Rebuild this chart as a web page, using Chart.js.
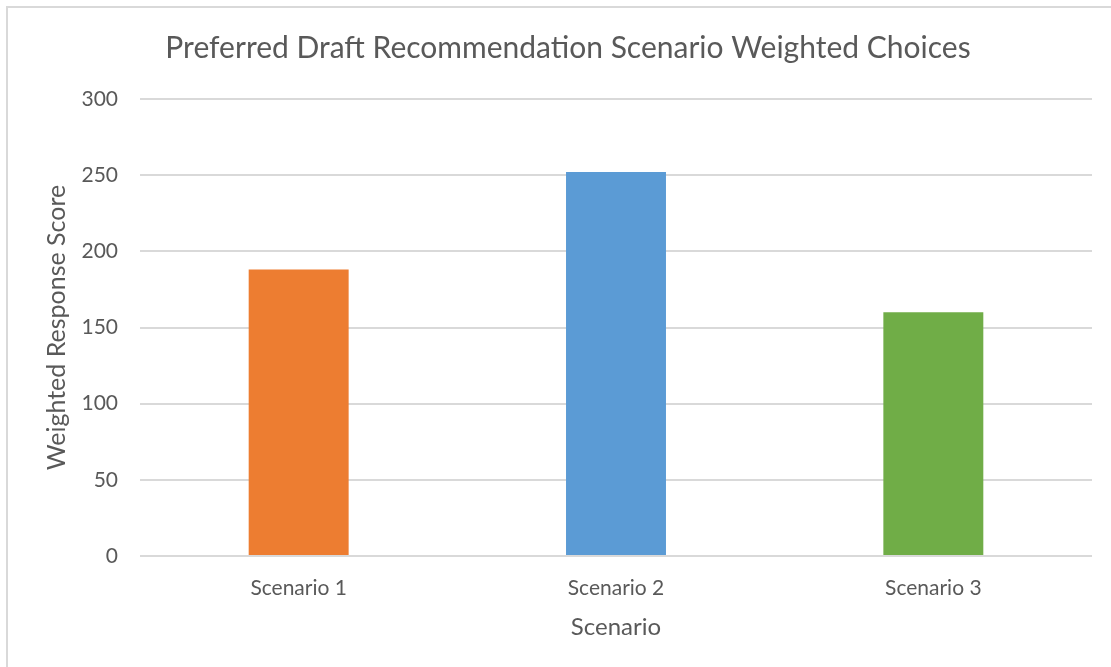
<!DOCTYPE html>
<html>
<head>
<meta charset="utf-8">
<script src="https://cdn.jsdelivr.net/npm/chart.js@4/dist/chart.umd.min.js"></script>
<style>
  html, body { margin: 0; padding: 0; background: #fff; overflow: hidden; }
  #wrap { position: relative; width: 1111px; height: 667px; }
  #frame {
    position: absolute; left: 6px; top: 6px; right: 0; bottom: 0;
    border-left: 2px solid #d9d9d9; border-top: 2px solid #d9d9d9;
    pointer-events: none;
  }
</style>
</head>
<body>
<div id="wrap">
  <canvas id="chart" width="1111" height="667"></canvas>
  <div id="frame"></div>
</div>
<script>
const categories = ['Scenario 1', 'Scenario 2', 'Scenario 3'];
const scores = [188, 252, 160];
const barColors = ['#ED7D31', '#5B9BD5', '#70AD47'];
const yTicks = [0, 50, 100, 150, 200, 250, 300];

const textColor = '#595959';
const gridColor = '#d9d9d9';
const fontName = 'Lato';

const config = {
  type: 'bar',
  data: {
    labels: categories,
    datasets: [{
      data: scores,
      backgroundColor: barColors,
      borderWidth: 0,
      categoryPercentage: 1,
      barPercentage: 0.315
    }]
  },
  options: {
    responsive: false,
    animation: false,
    layout: { padding: { left: 44, right: 19, top: 0, bottom: 0 } },
    plugins: {
      legend: { display: false },
      tooltip: { enabled: false },
      title: {
        display: true,
        text: 'Preferred Draft Recommendation Scenario Weighted Choices',
        color: textColor,
        font: { family: fontName, size: 30, weight: 'normal' },
        padding: { top: 30, bottom: 33 }
      }
    },
    scales: {
      x: {
        grid: { display: false, drawTicks: false },
        border: { display: false },
        ticks: {
          color: textColor,
          font: { family: fontName, size: 21 },
          padding: 20
        },
        title: {
          display: true,
          text: 'Scenario',
          color: textColor,
          font: { family: fontName, size: 24 },
          padding: { top: 0, bottom: 25 }
        },
        afterFit: function (scale) { scale.height = 111; }
      },
      y: {
        min: yTicks[0],
        max: yTicks[yTicks.length - 1],
        grid: { color: gridColor, lineWidth: 2, drawTicks: false },
        border: { display: false },
        ticks: {
          stepSize: yTicks[1] - yTicks[0],
          color: textColor,
          font: { family: fontName, size: 21 },
          padding: 22
        },
        title: {
          display: true,
          text: 'Weighted Response Score',
          color: textColor,
          font: { family: fontName, size: 25, lineHeight: 1 },
          padding: 0
        },
        afterFit: function (scale) { scale.width = 96; }
      }
    }
  }
};

new Chart(document.getElementById('chart'), config);
</script>
</body>
</html>
